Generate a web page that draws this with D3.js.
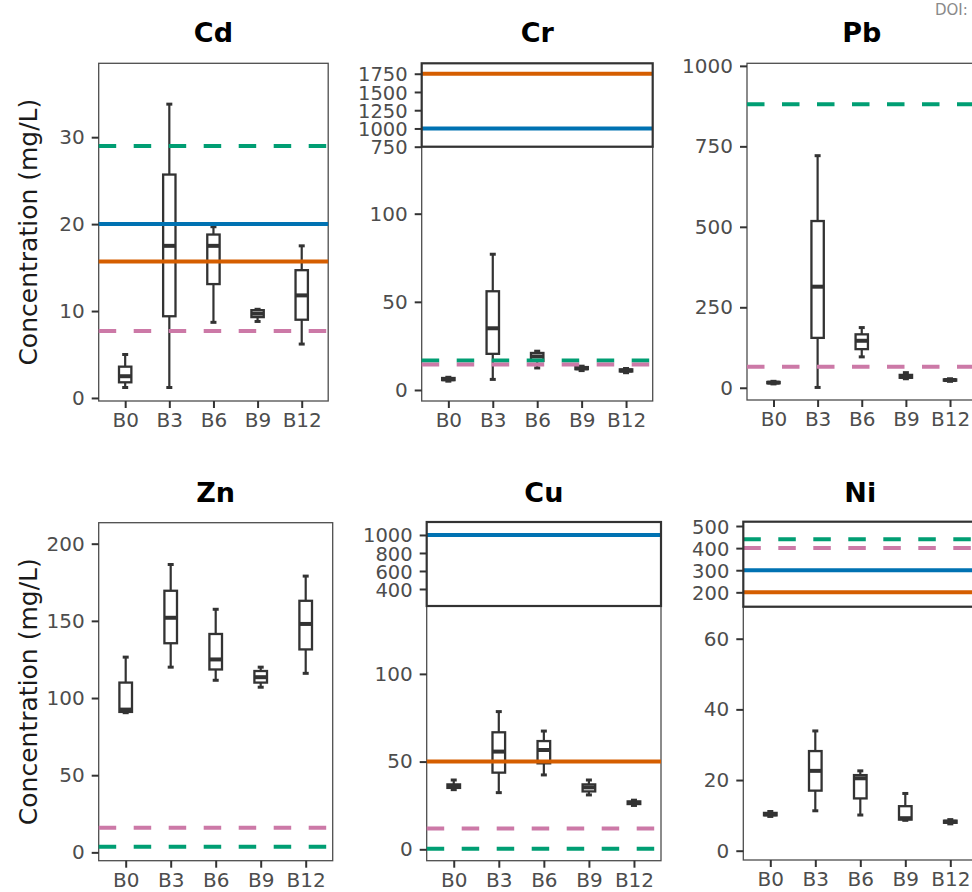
<!DOCTYPE html>
<html>
<head>
<meta charset="utf-8">
<script src="https://cdn.jsdelivr.net/npm/d3@7"></script>
<style>
  html, body { margin: 0; padding: 0; background: #fff; }
  svg { display: block; }
</style>
</head>
<body>
<svg id="chart" width="972" height="892"></svg>
<script>
// ---------------- DATA ----------------
const groups = ["B0", "B3", "B6", "B9", "B12"];
const metals = ["Cd", "Cr", "Pb", "Zn", "Cu", "Ni"];

// box statistics per group: [lower whisker, Q1, median, Q3, upper whisker]
const boxCd = [[1.2, 1.8, 2.5, 3.6, 5.0], [1.2, 9.4, 17.5, 25.7, 33.8], [8.7, 13.1, 17.5, 18.8, 19.7], [8.8, 9.3, 9.7, 10.1, 10.2], [6.2, 9.0, 11.8, 14.7, 17.5]];
const boxCr = [[5.0, 5.6, 6.1, 6.8, 7.2], [6.0, 20.5, 35.0, 56.0, 77.0], [12.5, 16.5, 19.0, 21.0, 22.0], [11.0, 11.8, 12.3, 13.0, 13.5], [9.8, 10.5, 11.0, 11.7, 12.2]];
const boxPb = [[12, 14, 16, 18, 20], [1, 155, 314, 518, 721], [96, 120, 146, 166, 187], [28, 31, 34, 40, 47], [20, 22, 24, 26, 28]];
const boxZn = [[90.5, 91, 92.5, 110, 126.5], [120, 135.5, 152, 169.5, 186.5], [111.5, 118.5, 125, 141.5, 157.5], [107, 110, 113.5, 117.5, 120], [116, 131.5, 148, 163, 179]];
const boxCu = [[34, 35, 36, 37, 39.5], [32.3, 43.7, 55.7, 66.7, 78.5], [42.4, 49, 56.6, 61.7, 67.4], [31, 33, 35.3, 37, 39.5], [25, 25.8, 26.5, 27.3, 28]];
const boxNi = [[9.7, 10.0, 10.3, 10.7, 11.1], [11.3, 17, 22.6, 28.2, 33.9], [10.1, 14.8, 20.5, 21.4, 22.6], [8.6, 8.8, 9.2, 12.6, 16.2], [7.6, 7.9, 8.2, 8.5, 8.8]];

// reference limits per metal (order = metals), null = not shown
const limitBlue   = [20,   1000, null, null, 1000, 300];
const limitOrange = [15.7, 1750, null, null, 50,   200];
const limitGreen  = [29,   16.7, 881,  3.6,  0.3,  440];
const limitPink   = [7.7,  14.4, 65,   15.9, 11.8, 400];

// y tick labels (lower axis / upper broken axis)
const ticksLower = [[0, 10, 20, 30], [0, 50, 100], [0, 250, 500, 750, 1000], [0, 50, 100, 150, 200], [0, 50, 100], [0, 20, 40, 60]];
const ticksUpper = [null, [750, 1000, 1250, 1500, 1750], null, null, [400, 600, 800, 1000], [200, 300, 400, 500]];

const yLabel = "Concentration (mg/L)";
const doiText = "DOI:";

// ---------------- LAYOUT ----------------
const boxes = [boxCd, boxCr, boxPb, boxZn, boxCu, boxNi];
const layout = [
  { x: 98.7,  w: 229.5, top: 63.3,  split: null,  bottom: 401,   upper: null,        lower: [-0.35, 38.5] },
  { x: 421.7, w: 231,   top: 63.3,  split: 146.7, bottom: 401,   upper: [750, 1893], lower: [-6.25, 138] },
  { x: 747,   w: 229.5, top: 63.3,  split: null,  bottom: 400,   upper: null,        lower: [-38, 1008] },
  { x: 98.7,  w: 234,   top: 522.7, split: null,  bottom: 860.7, upper: null,        lower: [-5.4, 213.6] },
  { x: 426.7, w: 234.3, top: 522,   split: 606,   bottom: 860.7, upper: [211, 1144], lower: [-6.5, 138.7] },
  { x: 743.3, w: 234,   top: 521.7, split: 606.7, bottom: 860,   upper: [135, 519.5], lower: [-2.63, 69.06] }
];
const titleBaseline = [42, 42, 42, 502, 502, 502];

const limitStyles = [
  { values: limitBlue,   color: "#0072B2", dash: null },
  { values: limitOrange, color: "#D55E00", dash: null },
  { values: limitGreen,  color: "#009E73", dash: "17.5,17.5" },
  { values: limitPink,   color: "#CC79A7", dash: "17.5,17.5" }
];

const FONT = "'DejaVu Sans', Arial, sans-serif";
const svg = d3.select("#chart");

svg.append("text")
  .attr("x", 935).attr("y", 15)
  .attr("font-family", FONT).attr("font-size", 15)
  .attr("fill", "#8a8a8a")
  .text(doiText);

metals.forEach((metal, mi) => {
  const L = layout[mi];
  const g = svg.append("g");
  const lowerTop = L.split !== null ? L.split : L.top;

  const x = d3.scalePoint().domain(groups).range([L.x, L.x + L.w]).padding(0.6);
  const yLow = d3.scaleLinear().domain(L.lower).range([L.bottom, lowerTop]);
  const yUp = L.upper ? d3.scaleLinear().domain(L.upper).range([L.split, L.top]) : null;

  // lower panel border
  g.append("rect")
    .attr("x", L.x).attr("y", lowerTop)
    .attr("width", L.w).attr("height", L.bottom - lowerTop)
    .attr("fill", "none").attr("stroke", "#4d4d4d").attr("stroke-width", 1.3);

  // boxes
  const bw = x.step() * 0.28;
  const cw = 6;
  const data = boxes[mi];
  groups.forEach((grp, gi) => {
    const [lo, q1, med, q3, hi] = data[gi];
    const cx = x(grp);
    const bg = g.append("g");
    bg.append("line").attr("x1", cx).attr("x2", cx).attr("y1", yLow(lo)).attr("y2", yLow(hi))
      .attr("stroke", "#333").attr("stroke-width", 2.2);
    bg.append("rect").attr("x", cx - bw / 2).attr("width", bw)
      .attr("y", yLow(q3)).attr("height", Math.max(0.5, yLow(q1) - yLow(q3)))
      .attr("fill", "#fff").attr("stroke", "#333").attr("stroke-width", 2.3);
    bg.append("line").attr("x1", cx - bw / 2).attr("x2", cx + bw / 2).attr("y1", yLow(med)).attr("y2", yLow(med))
      .attr("stroke", "#333").attr("stroke-width", 4);
    [lo, hi].forEach(v => {
      bg.append("line").attr("x1", cx - cw / 2).attr("x2", cx + cw / 2).attr("y1", yLow(v)).attr("y2", yLow(v))
        .attr("stroke", "#333").attr("stroke-width", 3);
    });
  });

  // reference lines
  limitStyles.forEach(ls => {
    const v = ls.values[mi];
    if (v === null || v === undefined) return;
    let yy;
    if (yUp && v >= L.upper[0]) yy = yUp(v); else yy = yLow(v);
    const ln = g.append("line")
      .attr("x1", L.x).attr("x2", L.x + L.w).attr("y1", yy).attr("y2", yy)
      .attr("stroke", ls.color).attr("stroke-width", 4);
    if (ls.dash) ln.attr("stroke-dasharray", ls.dash);
  });

  // upper broken panel frame
  if (yUp) {
    g.append("rect")
      .attr("x", L.x).attr("y", L.top)
      .attr("width", L.w).attr("height", L.split - L.top)
      .attr("fill", "none").attr("stroke", "#333").attr("stroke-width", 2.2);
  }

  // axes
  function styleAxis(sel, size) {
    sel.select(".domain").remove();
    sel.selectAll(".tick line").attr("stroke", "#333").attr("stroke-width", 2);
    sel.selectAll(".tick text").attr("fill", "#4d4d4d").attr("font-family", FONT).attr("font-size", size);
  }
  g.append("g").attr("transform", `translate(${L.x},0)`)
    .call(d3.axisLeft(yLow).tickValues(ticksLower[mi]).tickSize(7).tickPadding(7).tickFormat(d3.format("d")))
    .call(styleAxis, 20);
  if (yUp) {
    g.append("g").attr("transform", `translate(${L.x},0)`)
      .call(d3.axisLeft(yUp).tickValues(ticksUpper[mi]).tickSize(7).tickPadding(7).tickFormat(d3.format("d")))
      .call(styleAxis, 19.5)
      .selectAll(".tick text").attr("dy", "0.36em");
  }
  g.append("g").attr("transform", `translate(0,${L.bottom})`)
    .call(d3.axisBottom(x).tickSize(7).tickPadding(5))
    .call(styleAxis, 20);

  // title
  svg.append("text")
    .attr("x", L.x + L.w / 2).attr("y", titleBaseline[mi])
    .attr("text-anchor", "middle")
    .attr("font-family", FONT).attr("font-size", 27).attr("font-weight", "bold")
    .attr("fill", "#000")
    .text(metal);

  // y label on left column
  if (mi % 3 === 0) {
    const cy = (L.top + L.bottom) / 2;
    svg.append("text")
      .attr("transform", `translate(37,${cy}) rotate(-90)`)
      .attr("text-anchor", "middle")
      .attr("font-family", FONT).attr("font-size", 25)
      .attr("fill", "#1a1a1a")
      .text(yLabel);
  }
});
</script>
</body>
</html>
